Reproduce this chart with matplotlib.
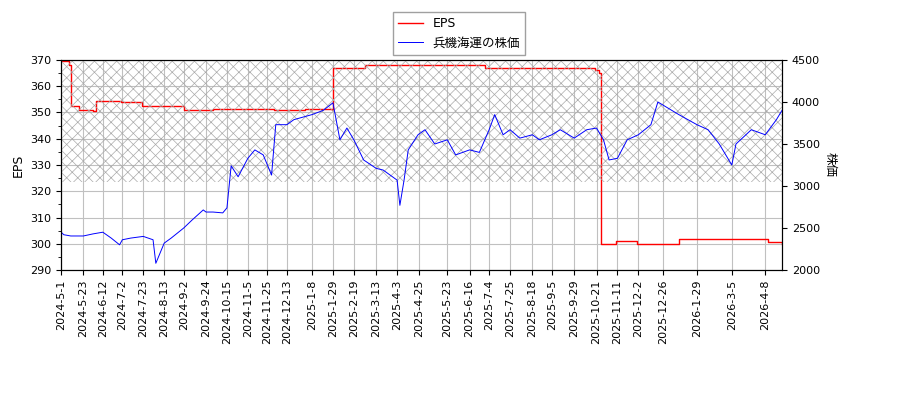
import numpy as np
import pandas as pd
import matplotlib
matplotlib.use('Agg')
import matplotlib.pyplot as plt

plt.rcParams['font.family'] = ['DejaVu Sans', 'Noto Sans CJK JP']
plt.rcParams['hatch.linewidth'] = 0.5

# 株価
price_dates = ['2024-5-1', '2024-5-3', '2024-5-10', '2024-5-23', '2024-6-1', '2024-6-12', '2024-6-20',
               '2024-6-28', '2024-7-2', '2024-7-10', '2024-7-23', '2024-8-1', '2024-8-5', '2024-8-13',
               '2024-8-20', '2024-9-2', '2024-9-10', '2024-9-20', '2024-9-24', '2024-10-1', '2024-10-10',
               '2024-10-15', '2024-10-18', '2024-10-25', '2024-11-5', '2024-11-12', '2024-11-20',
               '2024-11-25', '2024-11-28', '2024-12-3', '2024-12-13', '2024-12-20', '2025-1-8',
               '2025-1-20', '2025-1-29', '2025-2-5', '2025-2-12', '2025-2-19', '2025-2-28', '2025-3-13',
               '2025-3-20', '2025-4-3', '2025-4-7', '2025-4-10', '2025-4-15', '2025-4-24', '2025-5-1',
               '2025-5-12', '2025-5-23', '2025-6-1', '2025-6-16', '2025-6-25', '2025-7-4', '2025-7-10',
               '2025-7-18', '2025-7-25', '2025-8-5', '2025-8-18', '2025-8-25', '2025-9-5', '2025-9-15',
               '2025-9-29', '2025-10-10', '2025-10-21', '2025-10-28', '2025-11-3', '2025-11-11',
               '2025-11-20', '2025-12-2', '2025-12-15', '2025-12-22', '2025-12-26', '2026-1-10',
               '2026-1-29', '2026-2-10', '2026-2-20', '2026-3-5', '2026-3-10', '2026-3-25', '2026-4-8',
               '2026-4-20', '2026-4-24']
price_vals = [2452, 2420, 2405, 2405, 2430, 2450, 2380, 2300, 2360, 2380, 2400, 2360, 2080, 2320,
              2380, 2500, 2595, 2715, 2690, 2690, 2680, 2740, 3240, 3110, 3330, 3430, 3370, 3250, 3130,
              3730, 3730, 3790, 3850, 3900, 3990, 3550, 3690, 3550, 3310, 3210, 3190, 3070, 2770, 3070,
              3430, 3610, 3670, 3500, 3550, 3370, 3430, 3400, 3670, 3850, 3610, 3670, 3570, 3610, 3550,
              3610, 3670, 3570, 3670, 3690, 3550, 3310, 3330, 3550, 3610, 3730, 4000, 3960, 3850, 3730,
              3670, 3500, 3250, 3500, 3670, 3610, 3790, 3900]

# EPS (step values)
eps_dates = ['2024-5-1', '2024-5-9', '2024-5-10', '2024-5-20', '2024-6-3', '2024-6-5', '2024-7-1',
             '2024-7-20', '2024-9-1', '2024-10-1', '2024-11-1', '2024-12-1', '2025-1-1', '2025-1-28',
             '2025-1-29', '2025-3-1', '2025-5-1', '2025-7-1', '2025-9-1', '2025-10-20', '2025-10-23',
             '2025-10-24', '2025-11-10', '2025-12-1', '2026-1-10', '2026-3-1', '2026-4-10', '2026-4-24']
eps_vals = [369.5, 368, 352.5, 351, 350.5, 354.5, 354, 352.5, 351, 351.5, 351.5, 351, 351.5, 351,
            367, 368, 368, 367, 367, 366, 365, 300, 301, 300, 302, 302, 300.5, 300]

tick_labels = ['2024-5-1', '2024-5-23', '2024-6-12', '2024-7-2', '2024-7-23', '2024-8-13', '2024-9-2',
               '2024-9-24', '2024-10-15', '2024-11-5', '2024-11-25', '2024-12-13', '2025-1-8',
               '2025-1-29', '2025-2-19', '2025-3-13', '2025-4-3', '2025-4-25', '2025-5-23', '2025-6-16',
               '2025-7-4', '2025-7-25', '2025-8-18', '2025-9-5', '2025-9-29', '2025-10-21',
               '2025-11-11', '2025-12-2', '2025-12-26', '2026-1-29', '2026-3-5', '2026-4-8']

START = np.datetime64('2024-05-01')


def pos(dates):
    # trading-day index (weekdays) from the start
    d = pd.to_datetime(dates).values.astype('datetime64[D]')
    return np.busday_count(START, d)


px = pos(price_dates)
ex = pos(eps_dates)
tx = pos(tick_labels)
x1 = pos(['2026-4-24'])[0]

fig = plt.figure(figsize=(9, 4), dpi=100)
ax = fig.add_axes([61/900, 130/400, 721/900, 210/400])
ax2 = ax.twinx()

ax.step(ex, eps_vals, where='post', color='red', lw=1, label='EPS')
ax2.plot(px, price_vals, color='blue', lw=0.7, label='兵機海運の株価')

ax2.fill_between([0, x1], 3050, 4500, facecolor='none', edgecolor='#aaaaaa', hatch='xxx', lw=0)

ax.set_xlim(0, x1)
ax.set_ylim(290, 370)
ax2.set_ylim(2000, 4500)
ax.set_yticks(np.arange(290, 371, 10))
ax.set_yticks(np.arange(290, 371, 5), minor=True)
ax2.set_yticks(np.arange(2000, 4501, 500))
ax.set_xticks(tx)
ax.set_xticklabels(tick_labels, rotation=90, fontsize=8)
ax.tick_params(axis='y', labelsize=8)
ax2.tick_params(axis='y', labelsize=8)
ax.grid(True, color='#c0c0c0', lw=0.8)
ax.set_ylabel('EPS', fontsize=9)
ax2.set_ylabel('株価', fontsize=9, rotation=270, labelpad=12)

h1, l1 = ax.get_legend_handles_labels()
h2, l2 = ax2.get_legend_handles_labels()
fig.legend(h1 + h2, l1 + l2, loc='upper center', bbox_to_anchor=(0.51, 0.985), fontsize=9,
           fancybox=False, edgecolor='#888888')

fig.savefig('out.png', dpi=100)
